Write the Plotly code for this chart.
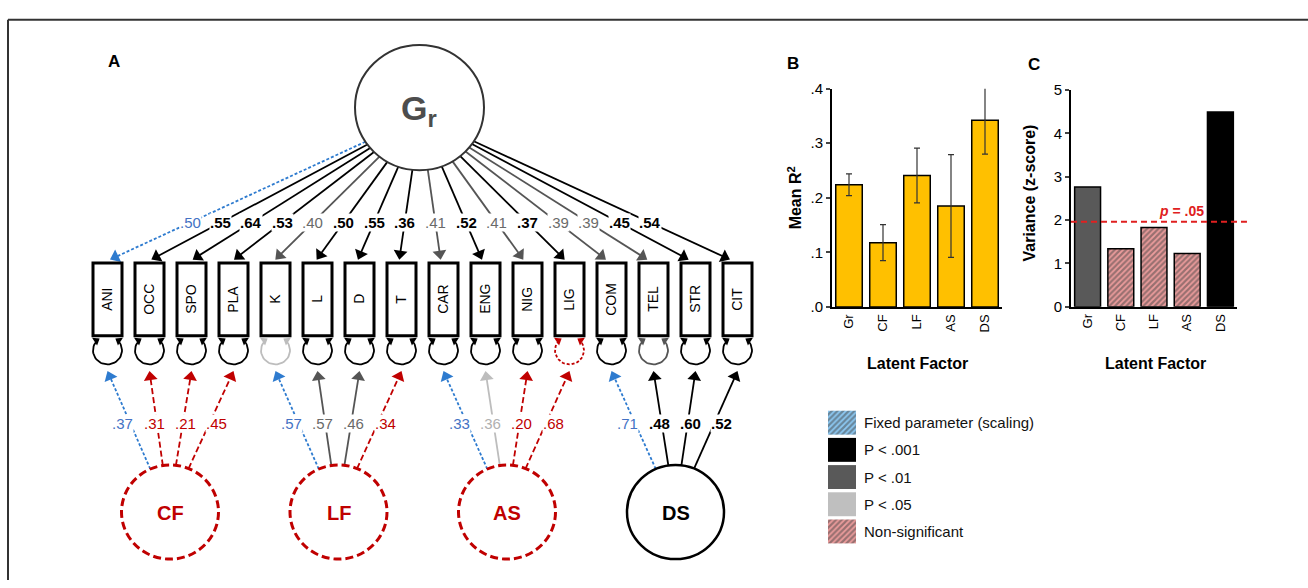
import math
import plotly.graph_objects as go

# ---------------- data ----------------
indicators = ["ANI", "OCC", "SPO", "PLA", "K", "L", "D", "T",
              "CAR", "ENG", "NIG", "LIG", "COM", "TEL", "STR", "CIT"]
g_loadings = [.50, .55, .64, .53, .40, .50, .55, .36, .41, .52, .41, .37, .39, .39, .45, .54]
g_sig = ["fixed", "p001", "p001", "p001", "p01", "p001", "p001", "p001",
         "p01", "p001", "p01", "p001", "p01", "p01", "p001", "p001"]
resid_sig = ["p001", "p001", "p001", "p001", "p05", "p001", "p001", "p001",
             "p001", "p001", "p001", "ns", "p001", "p01", "p001", "p001"]

specific_factors = ["CF", "LF", "AS", "DS"]
specific_factor_sig = ["ns", "ns", "ns", "p001"]
specific_loadings = [.37, .31, .21, .45, .57, .57, .46, .34, .33, .36, .20, .68, .71, .48, .60, .52]
specific_load_sig = ["fixed", "ns", "ns", "ns", "fixed", "p01", "p01", "ns",
                     "fixed", "p05", "ns", "ns", "fixed", "p001", "p001", "p001"]

latent_factors = ["Gr", "CF", "LF", "AS", "DS"]
mean_r2 = [0.224, 0.118, 0.241, 0.185, 0.342]
r2_err = [0.020, 0.033, 0.050, 0.094, 0.062]
variance_z = [2.76, 1.34, 1.83, 1.23, 4.49]
variance_sig = ["p01", "ns", "ns", "ns", "p001"]
p05_threshold = 1.96

legend_labels = ["Fixed parameter (scaling)", "P < .001", "P < .01", "P < .05", "Non-significant"]
legend_sig = ["fixed", "p001", "p01", "p05", "ns"]

# ---------------- styles ----------------
FONT = "Arial, Liberation Sans, sans-serif"
W, H = 1308, 588
LINE_C = {"fixed": "#2E7BCF", "p001": "#000000", "p01": "#555555", "p05": "#BDBDBD", "ns": "#C00000"}
DASH = {"fixed": "3px,2px", "p001": "solid", "p01": "solid", "p05": "solid", "ns": "6px,3px"}
TEXT_C = {"fixed": "#4472C4", "p001": "#000000", "p01": "#6A6A6A", "p05": "#B0B0B0", "ns": "#C00000"}
FILL_C = {"fixed": "#8CC8F2", "p001": "#000000", "p01": "#595959", "p05": "#BFBFBF", "ns": "#EC9C9C"}
HATCH_C = {"fixed": "#1F7FD8", "ns": "#D41C1C"}

# layout geometry (pixels)
GX, GY, GR = 419.5, 101.5, 64.5
BOX_X0, BOX_DX, BOX_HW = 107.5, 42.0, 14.5
BOX_TOP, BOX_BOT = 261.5, 336.5
UP_TIP_Y, UP_LAB_Y = 258.0, 220.0
UP_LAB_X0, UP_LAB_DX = 190.0, 30.67
LOOP_CY, LOOP_R = 351.5, 14.5
LAT_X0, LAT_DX, LAT_Y, LAT_R = 170.0, 168.5, 518.0, 48.5
LOW_TIP_Y, LOW_LAB_Y = 373.0, 427.0

fig = go.Figure()
shapes = []
annotations = []


def seg(xs, ys, color, dash, width=1.8):
    fig.add_trace(go.Scatter(x=xs, y=ys, mode="lines", xaxis="x", yaxis="y",
                             line=dict(color=color, dash=dash, width=width),
                             hoverinfo="skip", showlegend=False))


def head(xt, yt, ux, uy, color, size):
    r = size / 2.0
    ang = math.degrees(math.atan2(ux, -uy))
    fig.add_trace(go.Scatter(x=[xt - ux * r], y=[yt - uy * r], mode="markers", xaxis="x", yaxis="y",
                             marker=dict(symbol="triangle-up", size=size, angle=ang, color=color,
                                         line=dict(width=0)),
                             hoverinfo="skip", showlegend=False))
    return xt - ux * r, yt - uy * r


def fmt(v):
    return ("%.2f" % v).lstrip("0")


def label(x, y, v, sig):
    txt = fmt(v)
    if sig == "p001":
        txt = "<b>" + txt + "</b>"
    annotations.append(dict(x=x, y=y, xref="x", yref="y", text=txt, showarrow=False,
                            bgcolor="white", borderpad=0,
                            font=dict(family=FONT, size=15, color=TEXT_C[sig])))


# frame lines (top and left)
shapes.append(dict(type="line", xref="x", yref="y", x0=8, y0=11, x1=W, y1=11,
                   line=dict(color="#333333", width=2)))
shapes.append(dict(type="line", xref="x", yref="y", x0=8, y0=11, x1=8, y1=H,
                   line=dict(color="#333333", width=2)))

# G circle
shapes.append(dict(type="circle", xref="x", yref="y", x0=GX - GR, x1=GX + GR, y0=GY - GR, y1=GY + GR,
                   line=dict(color="#333333", width=2), fillcolor="white", layer="above"))

# upper loadings (G -> indicators)
for i, (name, v, sg) in enumerate(zip(indicators, g_loadings, g_sig)):
    cx = BOX_X0 + i * BOX_DX
    tx, ty = cx + 2.5 - 0.67 * i, UP_TIP_Y
    lx, ly = UP_LAB_X0 + i * UP_LAB_DX, UP_LAB_Y
    dx, dy = lx - tx, ly - ty
    fx, fy = tx - GX, ty - GY
    a = dx * dx + dy * dy
    b = 2 * (fx * dx + fy * dy)
    c = fx * fx + fy * fy - GR * GR
    disc = max(b * b - 4 * a * c, 0)
    s = (-b - math.sqrt(disc)) / (2 * a)
    sx, sy = tx + s * dx, ty + s * dy
    L = math.hypot(tx - sx, ty - sy)
    ux, uy = (tx - sx) / L, (ty - sy) / L
    mx, my = head(tx, ty, ux, uy, LINE_C[sg], 12)
    seg([sx, mx], [sy, my], LINE_C[sg], DASH[sg], 1.8)
    label(lx, ly, v, sg)

# boxes + residual loops
for i, (name, rs) in enumerate(zip(indicators, resid_sig)):
    cx = BOX_X0 + i * BOX_DX
    shapes.append(dict(type="rect", xref="x", yref="y", x0=cx - BOX_HW, x1=cx + BOX_HW,
                       y0=BOX_TOP, y1=BOX_BOT, line=dict(color="black", width=3), fillcolor="white"))
    annotations.append(dict(x=cx, y=(BOX_TOP + BOX_BOT) / 2, xref="x", yref="y", text=name,
                            textangle=-90, showarrow=False,
                            font=dict(family=FONT, size=14, color="black")))
    t0, t1 = -52.0, 232.0
    n = 40
    xs = [cx + LOOP_R * math.cos(math.radians(t0 + (t1 - t0) * k / n)) for k in range(n + 1)]
    ys = [LOOP_CY + LOOP_R * math.sin(math.radians(t0 + (t1 - t0) * k / n)) for k in range(n + 1)]
    seg(xs, ys, LINE_C[rs], "3px,2px" if rs == "ns" else "solid", 1.8)
    for te, sgn in ((-57.0, -1), (237.0, 1)):
        ex = cx + LOOP_R * math.cos(math.radians(te))
        ey = LOOP_CY + LOOP_R * math.sin(math.radians(te))
        tr = math.radians(te)
        ux, uy = -math.sin(tr) * sgn, math.cos(tr) * sgn
        head(ex, ey, ux, uy, LINE_C[rs], 8)

# specific factors
for f, (fname, fsig) in enumerate(zip(specific_factors, specific_factor_sig)):
    lcx = LAT_X0 + f * LAT_DX
    if fsig == "ns":
        ln = dict(color="#C00000", width=3, dash="8px,4px")
        tc = "#C00000"
    else:
        ln = dict(color="black", width=2.5)
        tc = "black"
    shapes.append(dict(type="circle", xref="x", yref="y", x0=lcx - LAT_R, x1=lcx + LAT_R,
                       y0=LAT_Y - LAT_R, y1=LAT_Y + LAT_R, line=ln, fillcolor="white"))
    annotations.append(dict(x=lcx, y=LAT_Y + 1, xref="x", yref="y", text="<b>%s</b>" % fname,
                            showarrow=False, font=dict(family=FONT, size=20, color=tc)))
    for k in range(4):
        i = f * 4 + k
        v, sg = specific_loadings[i], specific_load_sig[i]
        cx = BOX_X0 + i * BOX_DX
        ang = math.radians(-114 + 15.5 * k)
        sx, sy = lcx + LAT_R * math.cos(ang), LAT_Y + LAT_R * math.sin(ang)
        tx, ty = cx, LOW_TIP_Y
        L = math.hypot(tx - sx, ty - sy)
        ux, uy = (tx - sx) / L, (ty - sy) / L
        mx, my = head(tx, ty, ux, uy, LINE_C[sg], 12)
        seg([sx, mx], [sy, my], LINE_C[sg], DASH[sg], 1.8)
        yl = LOW_LAB_Y
        xl_line = sx + (yl - sy) / uy * ux
        label(xl_line + (k - 1.5) * 5, yl, v, sg)

# G label and panel letters
annotations.append(dict(x=GX - 1, y=GY + 3, xref="x", yref="y", text="<b>G<sub>r</sub></b>",
                        showarrow=False, font=dict(family=FONT, size=34, color="#4D4D4D")))
for letter, lx, ly in (("A", 114, 54), ("B", 793, 56), ("C", 1034, 57)):
    annotations.append(dict(x=lx, y=ly, xref="x", yref="y", text="<b>%s</b>" % letter,
                            showarrow=False, font=dict(family=FONT, size=17, color="black")))

# ---------------- panel B ----------------
fig.add_trace(go.Bar(x=latent_factors, y=mean_r2, xaxis="x2", yaxis="y2", width=0.78,
                     marker=dict(color="#FFC000", line=dict(color="black", width=1.5)),
                     error_y=dict(type="data", array=r2_err, visible=True, color="#333333",
                                  thickness=1.2, width=3),
                     hoverinfo="skip", showlegend=False))

# ---------------- panel C ----------------
c_shape = ["/" if s == "ns" else "" for s in variance_sig]
c_fg = [HATCH_C.get(s, FILL_C[s]) for s in variance_sig]
c_bg = [FILL_C[s] for s in variance_sig]
fig.add_trace(go.Bar(x=latent_factors, y=variance_z, xaxis="x3", yaxis="y3", width=0.78,
                     marker=dict(color=c_bg, line=dict(color="black", width=1.5),
                                 pattern=dict(shape=c_shape, fgcolor=c_fg, bgcolor=c_bg,
                                              size=4, solidity=0.55)),
                     hoverinfo="skip", showlegend=False))
shapes.append(dict(type="line", xref="x3 domain", yref="y3", x0=0, x1=1.06,
                   y0=p05_threshold, y1=p05_threshold,
                   line=dict(color="#E02020", width=2, dash="6px,4px")))
annotations.append(dict(x=1181, y=p05_threshold, xref="x", yref="y3",
                        text="<b><i>p</i> = .05</b>", showarrow=False, yanchor="bottom", yshift=1,
                        font=dict(family=FONT, size=14, color="#E02020")))

# ---------------- legend ----------------
lg_shape = ["/" if s in HATCH_C else "" for s in legend_sig]
lg_fg = [HATCH_C.get(s, FILL_C[s]) for s in legend_sig]
lg_bg = [FILL_C[s] for s in legend_sig]
fig.add_trace(go.Bar(x=[1] * len(legend_sig), y=list(range(len(legend_sig))), orientation="h",
                     base=0, width=0.88, xaxis="x4", yaxis="y4",
                     marker=dict(color=lg_bg, line=dict(width=0),
                                 pattern=dict(shape=lg_shape, fgcolor=lg_fg, bgcolor=lg_bg,
                                              size=4, solidity=0.55)),
                     hoverinfo="skip", showlegend=False))
for k, txt in enumerate(legend_labels):
    annotations.append(dict(x=862, y=k, xref="x", yref="y4", text=txt, showarrow=False,
                            xanchor="left", font=dict(family=FONT, size=15, color="#111111")))

# axis titles
annotations += [
    dict(x=917, y=365, xref="x", yref="y", text="<b>Latent Factor</b>", showarrow=False,
         font=dict(family=FONT, size=16, color="black")),
    dict(x=1155, y=365, xref="x", yref="y", text="<b>Latent Factor</b>", showarrow=False,
         font=dict(family=FONT, size=16, color="black")),
    dict(x=795, y=195, xref="x", yref="y", text="<b>Mean R<sup>2</sup></b>", showarrow=False,
         textangle=-90, font=dict(family=FONT, size=16, color="black")),
    dict(x=1030, y=190, xref="x", yref="y", text="<b>Variance (z-score)</b>", showarrow=False,
         textangle=-90, font=dict(family=FONT, size=16, color="black")),
]

ax_line = dict(showline=True, linecolor="black", linewidth=2, showgrid=False, zeroline=False,
               fixedrange=True)
tick_y = dict(family=FONT, size=15, color="black")
tick_x = dict(family=FONT, size=13, color="black")
fig.update_layout(
    width=W, height=H, margin=dict(l=0, r=0, t=0, b=0),
    paper_bgcolor="white", plot_bgcolor="rgba(0,0,0,0)",
    xaxis=dict(range=[0, W], domain=[0, 1], visible=False, fixedrange=True),
    yaxis=dict(range=[H, 0], domain=[0, 1], visible=False, fixedrange=True),
    xaxis2=dict(domain=[832 / W, 1002 / W], anchor="y2", type="category", range=[-0.5, 4.5],
                tickangle=-90, ticks="", tickfont=tick_x, **ax_line),
    yaxis2=dict(domain=[1 - 307 / H, 1 - 82 / H], anchor="x2", range=[0, 0.4],
                tickvals=[0, 0.1, 0.2, 0.3, 0.4], ticktext=[".0", ".1", ".2", ".3", ".4"],
                ticks="outside", ticklen=4, tickwidth=2, tickfont=tick_y, **ax_line),
    xaxis3=dict(domain=[1071 / W, 1237 / W], anchor="y3", type="category", range=[-0.5, 4.5],
                tickangle=-90, ticks="", tickfont=tick_x, **ax_line),
    yaxis3=dict(domain=[1 - 306.7 / H, 1 - 83.3 / H], anchor="x3", range=[0, 5],
                tickvals=[0, 1, 2, 3, 4, 5], ticks="outside", ticklen=4, tickwidth=2,
                tickfont=tick_y, **ax_line),
    xaxis4=dict(domain=[828 / W, 856 / W], anchor="y4", range=[0, 1], visible=False, fixedrange=True),
    yaxis4=dict(domain=[1 - 552 / H, 1 - 412 / H], anchor="x4", range=[4.5, -0.5], visible=False,
                fixedrange=True),
    shapes=shapes, annotations=annotations,
)

fig.write_html("out.html", config={"displayModeBar": False},
               post_script="document.body.style.margin='0px';document.body.style.overflow='hidden';")
